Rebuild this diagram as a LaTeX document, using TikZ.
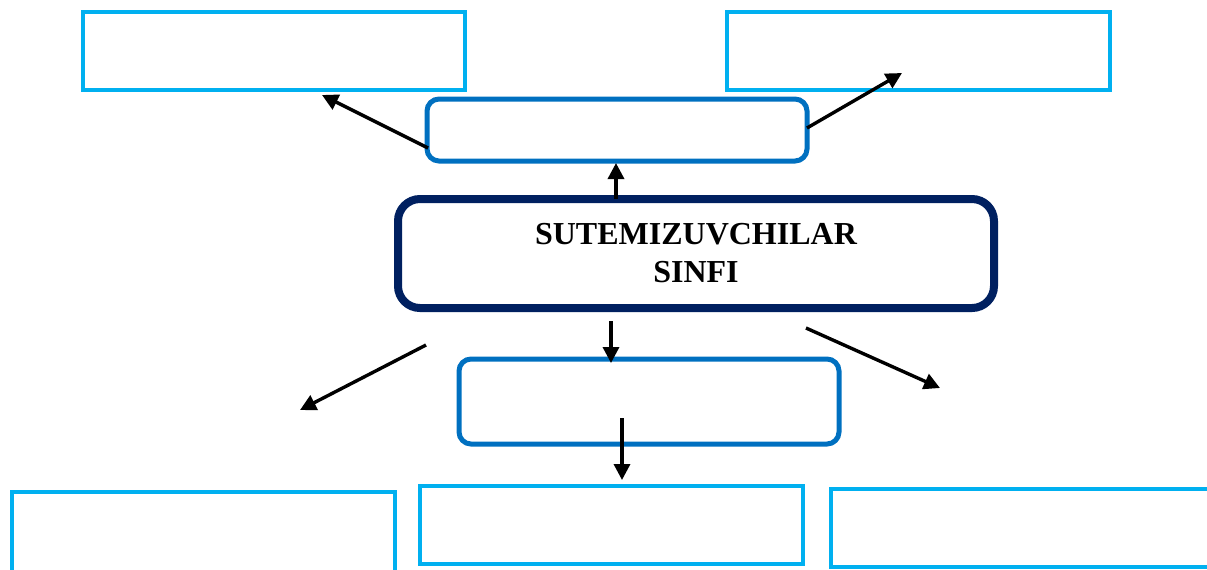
\documentclass[tikz,border=0pt]{standalone}
\usepackage{fontspec}
\setmainfont{Liberation Serif}
\usetikzlibrary{arrows.meta}
\definecolor{lblue}{HTML}{00B0F0}
\definecolor{mblue}{HTML}{0070C0}
\definecolor{navy}{HTML}{002060}
\tikzset{
  lbox/.style={draw=lblue, line width=2pt, rectangle, inner sep=0pt},
  mbox/.style={draw=mblue, line width=2.5pt, rectangle, rounded corners=6pt, inner sep=0pt},
  mainbox/.style={draw=navy, line width=4pt, rectangle, rounded corners=11pt, inner sep=0pt,
    align=center, font=\fontsize{16}{19}\selectfont\bfseries},
  arr/.style={line width=1.7pt, -{Triangle[length=8pt,width=8pt]}}
}
\begin{document}
\begin{tikzpicture}[x=0.5pt,y=-0.5pt]
\useasboundingbox (0,0) rectangle (1207,569);
\clip (0,0) rectangle (1207,569);
% boxes
\node[lbox, minimum width=191pt, minimum height=39pt] (tl) at (274,51) {};
\node[lbox, minimum width=191.5pt, minimum height=39pt] (tr) at (918.5,51) {};
\node[mbox, minimum width=190pt, minimum height=31pt] (mt) at (617,130) {};
\node[mainbox, minimum width=298pt, minimum height=54.5pt] (main) at (696,253.5)
  {SUTEMIZUVCHILAR\\SINFI};
\node[mbox, minimum width=190pt, minimum height=42.5pt] (lm) at (649,401.5) {};
\node[lbox, minimum width=191.5pt, minimum height=45pt] (bl) at (203.5,537) {};
\node[lbox, minimum width=191.5pt, minimum height=39pt] (bm) at (611.5,525) {};
\node[lbox, minimum width=189.5pt, minimum height=39pt] (br) at (1020.5,528) {};
% arrow end points
\coordinate (a1s) at (428,148); \coordinate (a1e) at (322,95);
\coordinate (a2s) at (807,128); \coordinate (a2e) at (902,73);
\coordinate (a3s) at (616,199); \coordinate (a3e) at (616,163);
\coordinate (a4s) at (611,321); \coordinate (a4e) at (611,363);
\coordinate (a5s) at (426,345); \coordinate (a5e) at (300,410);
\coordinate (a6s) at (806,328); \coordinate (a6e) at (940,388);
\coordinate (a7s) at (622,418); \coordinate (a7e) at (622,480);
\draw[arr] (a1s) -- (a1e);
\draw[arr] (a2s) -- (a2e);
\draw[arr] (a3s) -- (a3e);
\draw[arr] (a4s) -- (a4e);
\draw[arr] (a5s) -- (a5e);
\draw[arr] (a6s) -- (a6e);
\draw[arr] (a7s) -- (a7e);
\end{tikzpicture}
\end{document}
